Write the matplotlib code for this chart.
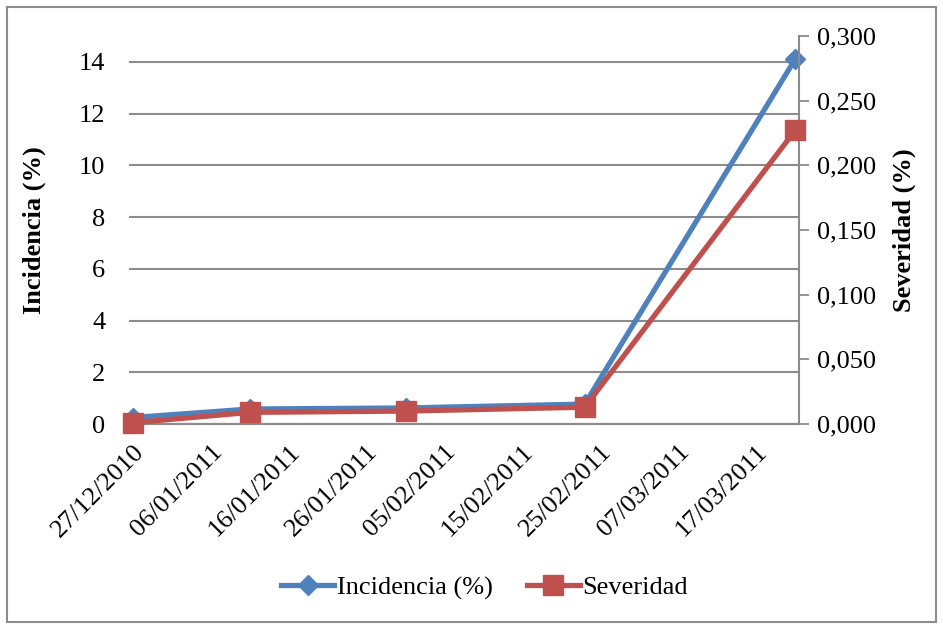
import numpy as np
import matplotlib.pyplot as plt
import matplotlib.dates as mdates
from matplotlib.patches import Rectangle
from matplotlib.ticker import FuncFormatter
from datetime import datetime, timedelta

plt.rcParams['font.family'] = ['Liberation Serif', 'DejaVu Serif']

fechas = [datetime(2010, 12, 27), datetime(2011, 1, 11), datetime(2011, 1, 31),
          datetime(2011, 2, 23), datetime(2011, 3, 22)]
incidencia = [0.25, 0.58, 0.62, 0.77, 14.1]
severidad = [0.001, 0.009, 0.010, 0.013, 0.227]

azul = '#4F81BD'
rojo = '#C0504D'
gris = '#8C8C8C'

fig = plt.figure(figsize=(9.43, 6.24), dpi=100)
ax = fig.add_axes([0.1368, 0.3205, 0.7105, 0.6218])
ax2 = ax.twinx()

ax.plot(fechas, incidencia, color=azul, lw=3.8, marker='D', ms=10,
        label='Incidencia (%)', zorder=3, clip_on=False)
ax2.plot(fechas, severidad, color=rojo, lw=3.8, marker='s', ms=14,
         label='Severidad', zorder=3, clip_on=False)

x0 = mdates.date2num(datetime(2010, 12, 27)) - 0.5
x1 = mdates.date2num(datetime(2011, 3, 22)) + 0.5
ax.set_xlim(x0, x1)
ax.set_ylim(0, 15)
ax2.set_ylim(0, 0.3)

ticks = [datetime(2010, 12, 27) + timedelta(days=10 * i) for i in range(9)]
ax.set_xticks(ticks)
ax.set_xticklabels([t.strftime('%d/%m/%Y') for t in ticks], rotation=45,
                   ha='right', rotation_mode='anchor', fontsize=19)
ax.tick_params(axis='x', length=0, pad=12)

ax.set_yticks(range(0, 16, 2))
ax.set_yticklabels([str(v) for v in range(0, 16, 2)])
ax.tick_params(axis='y', length=0, labelsize=19, pad=17)
ax.yaxis.grid(True, color=gris, lw=1.5)
ax.set_axisbelow(True)

ax2.set_yticks(np.arange(0, 0.301, 0.05))
ax2.yaxis.set_major_formatter(FuncFormatter(lambda v, p: f'{v:.3f}'.replace('.', ',')))
ax2.tick_params(axis='y', labelsize=19, length=7, width=1.3, color=gris, pad=6)

for a in (ax, ax2):
    a.spines['top'].set_visible(False)
    a.spines['left'].set_visible(False)
    a.spines['right'].set_visible(False)
    a.spines['bottom'].set_color(gris)
    a.spines['bottom'].set_linewidth(1.5)
ax2.spines['right'].set_visible(True)
ax2.spines['right'].set_color(gris)
ax2.spines['right'].set_linewidth(1.5)

ax.set_ylabel('Incidencia (%)', fontsize=19, fontweight='bold', labelpad=24)
ax2.set_ylabel('Severidad (%)', fontsize=19, fontweight='bold', labelpad=12)

h1, l1 = ax.get_legend_handles_labels()
h2, l2 = ax2.get_legend_handles_labels()
fig.legend(h1 + h2, l1 + l2, loc='center', bbox_to_anchor=(0.514, 0.058),
           ncol=2, frameon=False, fontsize=19, handlelength=2.0,
           columnspacing=1.3, handletextpad=0.1)

fig.add_artist(Rectangle((7 / 943, 2 / 624), 929 / 943, 615 / 624,
                         transform=fig.transFigure, fill=False,
                         edgecolor=gris, lw=1.5))

fig.savefig('out.png', dpi=100)
